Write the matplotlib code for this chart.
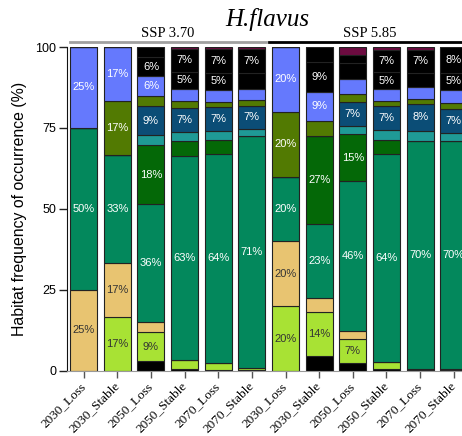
import numpy as np
import matplotlib
matplotlib.use("Agg")
import matplotlib.pyplot as plt

# bar labels, two scenario groups of six
periods = ["2030_Loss", "2030_Stable", "2050_Loss", "2050_Stable", "2070_Loss", "2070_Stable"]
scenarios = ["SSP 3.70", "SSP 5.85"]
bar_names = periods + periods

# percentage of each habitat class per bar (bottom -> top of the stack)
black_low  = [0, 0, 3.0, 0.5, 0.3, 0.2,   0, 4.5, 2.44, 0.5, 0.2, 0.2]
lime       = [0, 16.7, 9.1, 2.8, 2.3, 0.8,   20, 13.6, 7.32, 2.2, 0.4, 0.5]
tan        = [25, 16.7, 3.0, 0, 0, 0,   20, 4.5, 2.44, 0, 0, 0]
green      = [50, 33.3, 36.4, 63.0, 64.3, 71.4,   20, 22.7, 46.34, 64.4, 70.4, 70.3]
dark_green = [0, 0, 18.2, 4.7, 4.4, 0,   0, 27.3, 14.63, 4.3, 0, 0]
teal       = [0, 0, 3.0, 2.7, 2.8, 2.4,   0, 0, 2.44, 3.1, 3.1, 2.6]
navy       = [0, 0, 9.1, 7.4, 7.4, 7.0,   0, 0, 7.32, 7.4, 8.4, 7.2]
olive      = [0, 16.7, 3.0, 2.3, 1.5, 1.9,   20, 4.5, 2.44, 1.5, 1.5, 2.0]
periwinkle = [25, 16.6, 6.1, 3.7, 3.8, 3.4,   20, 9.1, 4.88, 3.6, 3.5, 4.0]
black_mid  = [0, 0, 6.1, 5.3, 5.2, 4.9,   0, 9.1, 4.88, 5.2, 4.4, 5.2]
black_top  = [0, 0, 3.0, 7.0, 7.4, 7.4,   0, 4.7, 2.44, 7.0, 7.3, 8.0]
maroon     = [0, 0, 0, 0.6, 0.6, 0.6,   0, 0, 2.43, 0.8, 0.8, 0]

layers = [
    (black_low, "#000000", "white"),
    (lime, "#a8e234", "#333333"),
    (tan, "#e8c471", "#333333"),
    (green, "#03885c", "white"),
    (dark_green, "#046807", "white"),
    (teal, "#1f9a96", "white"),
    (navy, "#0b4d76", "white"),
    (olive, "#527a02", "white"),
    (periwinkle, "#6579fd", "white"),
    (black_mid, "#000000", "white"),
    (black_top, "#000000", "white"),
    (maroon, "#6c0b40", "white"),
]

fig = plt.figure(figsize=(4.62, 4.36), dpi=100)
ax = fig.add_axes([0.1461, 0.1491, 0.8725, 0.7431])

x = np.arange(len(bar_names))
bottom = np.zeros(len(bar_names))
for vals, col, txt_col in layers:
    vals = np.array(vals, dtype=float)
    ax.bar(x, vals, 0.8, bottom=bottom, color=col, edgecolor="#222222", linewidth=0.8, zorder=2)
    for i, v in enumerate(vals):
        if v >= 5:
            ax.text(x[i], bottom[i] + v / 2, f"{v:.0f}%", ha="center", va="center",
                    fontsize=8, color=txt_col, family="Liberation Sans", zorder=3)
    bottom += vals

ax.set_xlim(-0.48, 11.5)
ax.set_ylim(0, 100)
ax.set_yticks([0, 25, 50, 75, 100])
ax.set_xticks(x)
ax.set_xticklabels(bar_names, rotation=45, ha="right", va="center", rotation_mode="anchor",
                   family="Liberation Serif", fontsize=9.5)
for lab in ax.get_yticklabels():
    lab.set_family("Liberation Sans")
    lab.set_fontsize(9)
ax.tick_params(axis="y", length=6, width=1, color="#222222", pad=2)
ax.tick_params(axis="x", length=5, width=1, color="#555555", pad=4.5)
ax.spines["top"].set_visible(False)
ax.spines["right"].set_visible(False)
ax.spines["left"].set_color("#111111")
ax.spines["bottom"].set_color("#999999")
ax.set_ylabel("Habitat frequency of occurrence (%)", family="Liberation Sans", fontsize=11.4, labelpad=6)

# scenario headers with bars above each group
tr = ax.get_xaxis_transform()
ax.plot([-0.41, 5.43], [1.0164, 1.0164], transform=tr, clip_on=False, color="#a0a0a0", lw=2)
ax.plot([5.51, 11.8], [1.0164, 1.0164], transform=tr, clip_on=False, color="#000000", lw=2)
ax.text(2.5, 1.03, scenarios[0], transform=tr, ha="center", va="baseline",
        family="Liberation Serif", fontsize=10.5)
ax.text(8.5, 1.03, scenarios[1], transform=tr, ha="center", va="baseline",
        family="Liberation Serif", fontsize=10.5)

fig.text(0.578, 0.94, "H.flavus", ha="center", va="baseline", style="italic",
         family="Liberation Serif", fontsize=18)

fig.savefig("out.png", dpi=100)
